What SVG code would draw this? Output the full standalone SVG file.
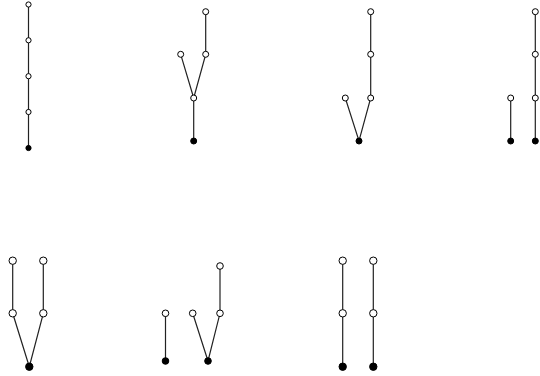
<svg xmlns="http://www.w3.org/2000/svg" width="540" height="376" viewBox="0 0 540 376">
<style>
.e{stroke:#222;stroke-width:1.2;fill:none}
.o{fill:#fff;stroke:#000;stroke-width:1}
.f{fill:#000;stroke:#000;stroke-width:1}
</style>
<rect width="540" height="376" fill="#fff"/>
<g id="connectors">
<path class="e" d="M28.5,4.5V148"/>
<path class="e" d="M205.7,11.7V54.3L193.7,98L180.7,54.3M193.7,98V141"/>
<path class="e" d="M370.7,11.7V98L359,141L345.3,98"/>
<path class="e" d="M535.3,11.7V141M510.7,98V141"/>
<path class="e" d="M12.7,260.7V313.3L29.3,366.7L43.3,313.3V260.7"/>
<path class="e" d="M165.5,313.3V361M220,266V313.3L208,361L192.7,313.3"/>
<path class="e" d="M342.7,260.7V366.7M373.3,260.7V366.7"/>
</g>
<g id="tree1">
<circle class="o" cx="28.5" cy="4.5" r="2.6"/>
<circle class="o" cx="28.5" cy="40.3" r="2.6"/>
<circle class="o" cx="28.5" cy="76.2" r="2.6"/>
<circle class="o" cx="28.5" cy="112" r="2.6"/>
<circle class="f" cx="28.5" cy="148" r="2.6"/>
</g>
<g id="tree2">
<circle class="o" cx="205.7" cy="11.7" r="3"/>
<circle class="o" cx="180.7" cy="54.3" r="3"/>
<circle class="o" cx="205.7" cy="54.3" r="3"/>
<circle class="o" cx="193.7" cy="98" r="3"/>
<circle class="f" cx="193.7" cy="141" r="3"/>
</g>
<g id="tree3">
<circle class="o" cx="370.7" cy="11.7" r="3"/>
<circle class="o" cx="370.7" cy="54.3" r="3"/>
<circle class="o" cx="370.7" cy="98" r="3"/>
<circle class="o" cx="345.3" cy="98" r="3"/>
<circle class="f" cx="359" cy="141" r="3"/>
</g>
<g id="tree4">
<circle class="o" cx="535.3" cy="11.7" r="3"/>
<circle class="o" cx="535.3" cy="54.3" r="3"/>
<circle class="o" cx="535.3" cy="98" r="3"/>
<circle class="o" cx="510.7" cy="98" r="3"/>
<circle class="f" cx="510.7" cy="141" r="3"/>
<circle class="f" cx="535.3" cy="141" r="3"/>
</g>
<g id="tree5">
<circle class="o" cx="12.7" cy="260.7" r="3.7"/>
<circle class="o" cx="43.3" cy="260.7" r="3.7"/>
<circle class="o" cx="12.7" cy="313.3" r="3.7"/>
<circle class="o" cx="43.3" cy="313.3" r="3.7"/>
<circle class="f" cx="29.3" cy="366.7" r="3.7"/>
</g>
<g id="tree6">
<circle class="o" cx="220" cy="266" r="3.3"/>
<circle class="o" cx="165.5" cy="313.3" r="3.3"/>
<circle class="o" cx="192.7" cy="313.3" r="3.3"/>
<circle class="o" cx="220" cy="313.3" r="3.3"/>
<circle class="f" cx="165.5" cy="361" r="3.3"/>
<circle class="f" cx="208" cy="361" r="3.3"/>
</g>
<g id="tree7">
<circle class="o" cx="342.7" cy="260.7" r="3.7"/>
<circle class="o" cx="373.3" cy="260.7" r="3.7"/>
<circle class="o" cx="342.7" cy="313.3" r="3.7"/>
<circle class="o" cx="373.3" cy="313.3" r="3.7"/>
<circle class="f" cx="342.7" cy="366.7" r="3.7"/>
<circle class="f" cx="373.3" cy="366.7" r="3.7"/>
</g>
</svg>
